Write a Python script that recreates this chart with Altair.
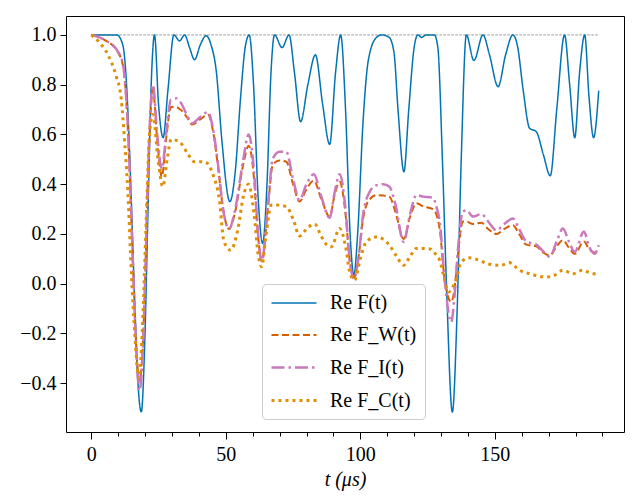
import altair as alt
import pandas as pd

# ---- series definitions ----
SERIES = ["Re F(t)", "Re F_W(t)", "Re F_I(t)", "Re F_C(t)"]
COLORS = ["#0173B2", "#D55E00", "#CC78BC", "#DE8F05"]
DASHES = [[1, 0], [7, 3.5], [13, 4, 2.5, 4], [3, 4]]

# ---- Re F(t) (exact) ----
F_t = [0, 5, 9.5, 11.7, 13, 14.2, 16.1, 17.3, 18.6, 19.8, 21.0, 22.3, 23.5, 25, 26.7, 28.5,
       30.7, 32.8, 34.7, 36.5, 38.4, 40.5, 42.7, 44.5, 46.5, 48.5, 51.5, 53.5, 55.5, 57.2,
       58.7, 60.3, 62, 63.7, 65.3, 66.8, 68.1, 70.9, 73.5, 75.5, 77.8, 80.5, 83.3, 86, 88.6,
       90.8, 92.7, 94.5, 96.2, 97.6, 99, 101, 103, 106, 108, 110.7, 112.5, 114, 116.2, 118,
       120, 121.4, 122.7, 124.5, 127.5, 128.8, 130.5, 132, 134.2, 136, 137.5, 139.4, 142.2,
       145.6, 148, 151.2, 154, 156.7, 158.5, 160.5, 162.9, 165.4, 168, 170.6, 173, 175.9,
       177.8, 179.7, 181.5, 183.4, 185, 186.7, 188.6]
F_re = [1.0, 1.0, 1.0, 0.96, 0.82, 0.54, -0.06, -0.39, -0.515, -0.26, 0.26, 0.81, 1.0, 0.72,
        0.587, 0.78, 1.0, 0.976, 1.0, 0.95, 0.90, 0.96, 0.997, 0.96, 0.85, 0.58, 0.33, 0.45,
        0.75, 0.95, 1.0, 0.8, 0.35, 0.162, 0.4, 0.85, 1.0, 0.949, 1.0, 0.85, 0.651, 0.8, 0.92,
        0.72, 0.56, 0.85, 1.0, 0.7, 0.2, 0.034, 0.2, 0.65, 0.9, 0.99, 1.0, 0.99, 0.93, 0.7,
        0.45, 0.7, 0.95, 1.0, 0.99, 1.0, 1.0, 0.95, 0.5, 0.0, -0.516, -0.1, 0.5, 1.0, 0.897,
        1.0, 0.92, 0.792, 0.92, 1.0, 0.95, 0.78, 0.625, 0.611, 0.52, 0.434, 0.7, 1.0, 0.8,
        0.587, 0.85, 1.0, 0.75, 0.587, 0.776]

# ---- Re F_W(t) and Re F_I(t) (shared time grid) ----
WI_t = [0, 4.9, 9.9, 11.8, 13, 14.2, 15.5, 16.7, 17.9, 19.0, 19.8, 21.0, 22.0, 22.9, 24.5,
        26.2, 28, 29.6, 31.5, 33.1, 35.5, 37.4, 40.5, 43.3, 45.3, 47.1, 49, 51.2, 53.5, 56.5,
        58.5, 60.5, 62, 63.4, 65.5, 67.5, 70, 72.5, 75, 77.4, 80, 82.7, 85.5, 88.6, 90.5,
        92.3, 94.5, 96, 97.6, 99.5, 101, 103.5, 106, 108.5, 110.8, 113, 116.1, 118.5, 120.8,
        123.5, 127, 128.5, 129.5, 131.3, 133.8, 135, 136.3, 138.1, 139.4, 141.9, 145, 147.5,
        150.6, 153.5, 156.7, 159, 161.7, 165.4, 168, 170.4, 173, 175.3, 177.5, 179.7, 183.1,
        185, 187.1, 188.6]
FW_re = [1.0, 0.98, 0.93, 0.875, 0.74, 0.47, 0.07, -0.25, -0.39, -0.28, -0.06, 0.40, 0.68,
         0.78, 0.58, 0.43, 0.6, 0.71, 0.71, 0.70, 0.67, 0.64, 0.66, 0.68, 0.61, 0.47, 0.3,
         0.22, 0.29, 0.48, 0.555, 0.42, 0.19, 0.09, 0.29, 0.48, 0.495, 0.49, 0.40, 0.33, 0.38,
         0.414, 0.34, 0.27, 0.36, 0.41, 0.28, 0.1, 0.025, 0.12, 0.26, 0.34, 0.356, 0.355,
         0.35, 0.29, 0.18, 0.27, 0.323, 0.31, 0.30, 0.27, 0.22, 0.02, -0.073, -0.02, 0.12,
         0.25, 0.25, 0.24, 0.245, 0.22, 0.20, 0.22, 0.235, 0.20, 0.157, 0.15, 0.125, 0.114,
         0.15, 0.175, 0.145, 0.12, 0.17, 0.14, 0.125, 0.135]
FI_re = [1.0, 0.98, 0.933, 0.88, 0.745, 0.477, 0.074, -0.26, -0.43, -0.3, -0.06, 0.41, 0.70,
         0.80, 0.6, 0.46, 0.62, 0.74, 0.745, 0.73, 0.68, 0.645, 0.67, 0.69, 0.62, 0.48, 0.3,
         0.22, 0.3, 0.5, 0.60, 0.45, 0.2, 0.09, 0.3, 0.504, 0.53, 0.53, 0.42, 0.336, 0.4,
         0.44, 0.35, 0.264, 0.37, 0.44, 0.3, 0.1, 0.02, 0.12, 0.276, 0.37, 0.396, 0.40, 0.39,
         0.32, 0.168, 0.28, 0.356, 0.35, 0.345, 0.3, 0.25, 0.02, -0.154, -0.05, 0.14, 0.29,
         0.295, 0.27, 0.28, 0.25, 0.215, 0.24, 0.262, 0.22, 0.17, 0.157, 0.13, 0.108, 0.17,
         0.222, 0.17, 0.128, 0.21, 0.15, 0.12, 0.155]

# ---- Re F_C(t) ----
FC_t = [0, 3, 6.2, 9.3, 11.1, 12.4, 13.6, 14.9, 16.1, 17.7, 19.2, 20.4, 21.7, 22.9, 24.8,
        26.6, 28.2, 29.7, 32.8, 36, 38.4, 42.1, 45.2, 47.7, 49.3, 51.8, 54.5, 56.5, 58.4,
        60.5, 62, 63.3, 65, 66.9, 69.4, 72.5, 75, 77.4, 80.5, 83, 85.5, 87.3, 89.2, 92.3,
        94.5, 96, 97.8, 100, 102.2, 105.9, 110.8, 113.5, 116.1, 118.5, 120.8, 125.8, 128.3,
        129.5, 131, 132.8, 134.5, 135.7, 137.5, 140.6, 144.3, 147.4, 152.4, 155.3, 159.2,
        163, 169.1, 172.2, 175.3, 179, 182.7, 185.2, 188.6]
FC_re = [1.0, 0.97, 0.92, 0.832, 0.745, 0.57, 0.37, 0.04, -0.19, -0.38, -0.126, 0.25, 0.61,
         0.68, 0.5, 0.39, 0.5, 0.58, 0.57, 0.52, 0.49, 0.49, 0.44, 0.33, 0.17, 0.135, 0.22,
         0.35, 0.40, 0.28, 0.12, 0.068, 0.2, 0.316, 0.316, 0.31, 0.26, 0.192, 0.226, 0.24,
         0.19, 0.159, 0.148, 0.222, 0.15, 0.05, 0.014, 0.1, 0.168, 0.188, 0.155, 0.11, 0.074,
         0.11, 0.142, 0.14, 0.114, 0.094, 0.03, -0.033, -0.01, 0.02, 0.087, 0.104, 0.094,
         0.08, 0.074, 0.085, 0.054, 0.04, 0.027, 0.034, 0.054, 0.04, 0.054, 0.044, 0.036]

X_TICKS = [0, 50, 100, 150]
X_MINOR = list(range(0, 200, 10))
Y_TICKS = [-0.4, -0.2, 0.0, 0.2, 0.4, 0.6, 0.8, 1.0]

frames = []
for name, tt, vv in [(SERIES[0], F_t, F_re), (SERIES[1], WI_t, FW_re),
                     (SERIES[2], WI_t, FI_re), (SERIES[3], FC_t, FC_re)]:
    frames.append(pd.DataFrame({"t": tt, "re": vv, "series": name}))
df = pd.concat(frames, ignore_index=True)

ref = pd.DataFrame({"t0": [F_t[0]], "t1": [F_t[-1]], "y": [1.0]})

FONT = "Liberation Serif"
xs = alt.Scale(domain=[-9.4, 198], nice=False, zero=False)
ys = alt.Scale(domain=[-0.596, 1.076], nice=False, zero=False)

y_axis = alt.Axis(values=Y_TICKS, format=".1f", title=None, tickSize=6,
                  labelPadding=4, grid=False, domain=False)

leg = alt.Legend(title=None, orient="none", legendX=196, legendY=268,
                 symbolType="M-1,0H3.5", symbolSize=400, labelFont=FONT,
                 labelFontSize=20, labelColor="black", labelOffset=37, padding=8,
                 rowPadding=11, fillColor="white", strokeColor="#cccccc",
                 cornerRadius=4)

rule = alt.Chart(ref).mark_rule(color="#666666", strokeWidth=0.7, strokeDash=[2.5, 1.5]).encode(
    x=alt.X("t0:Q", scale=xs,
            axis=alt.Axis(values=X_MINOR, labels=False, tickSize=4, domain=False,
                          grid=False, title=None, orient="bottom")),
    x2="t1:Q",
    y=alt.Y("y:Q", scale=ys, axis=y_axis),
)

lines = alt.Chart(df).mark_line(interpolate="monotone").encode(
    x=alt.X("t:Q", scale=xs,
            axis=alt.Axis(values=X_TICKS, title="t (μs)", orient="bottom", tickSize=7,
                          labelPadding=5, titlePadding=5, titleFontStyle="italic",
                          titleFontWeight="normal", grid=False, domain=False)),
    y=alt.Y("re:Q", scale=ys, axis=y_axis),
    color=alt.Color("series:N", scale=alt.Scale(domain=SERIES, range=COLORS), legend=leg),
    strokeDash=alt.StrokeDash("series:N", scale=alt.Scale(domain=SERIES, range=DASHES),
                              legend=leg),
    strokeWidth=alt.StrokeWidth("series:N", scale=alt.Scale(domain=SERIES, range=[1.5, 3]),
                                legend=leg),
)

chart = alt.layer(rule, lines).resolve_axis(x="independent").properties(
    width=558, height=416,
    autosize=alt.AutoSizeParams(type="none"),
    padding={"left": 58, "top": 8, "right": 11, "bottom": 64},
    background="white",
).configure_view(stroke="black", strokeWidth=1).configure_axis(
    labelFont=FONT, labelFontSize=20, titleFont=FONT, titleFontSize=20,
    tickColor="black", labelColor="black", titleColor="black", tickWidth=1,
)

chart.save("out.html", embed_options={"renderer": "svg", "actions": False})
